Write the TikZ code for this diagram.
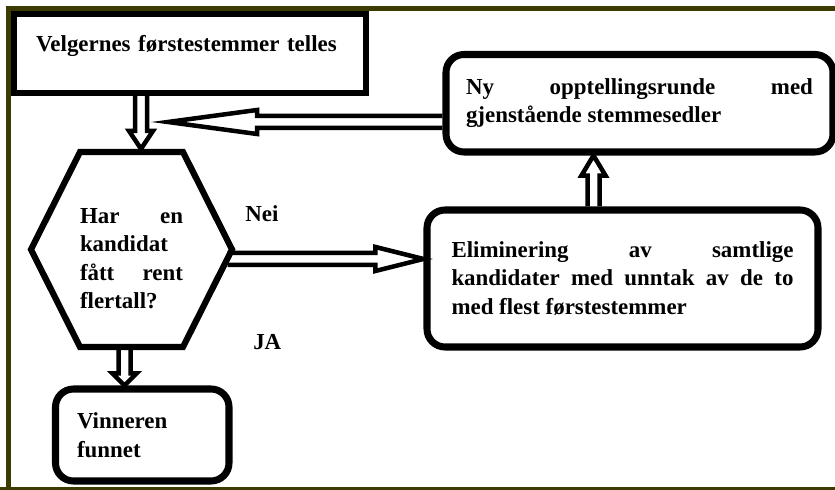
\documentclass[tikz,border=0pt]{standalone}
\usepackage{fontspec}
\setmainfont{Liberation Serif}
\usetikzlibrary{calc,shapes.symbols}
\definecolor{framecol}{RGB}{60,60,0}
\newcommand{\boxfont}{\fontsize{16.3}{20.3}\selectfont\bfseries}
\tikzset{
  box/.style={draw,line width=5pt,rounded corners=0.45cm,align=justify,font=\boxfont},
  blockarrow/.style={line width=3.2pt,line join=miter,
    to path={let \p1=(\tikztostart), \p2=(\tikztotarget),
      \n1={veclen(\x2-\x1,\y2-\y1)}, \n2={(\x2-\x1)/\n1}, \n3={(\y2-\y1)/\n1} in
      ({\x1-0.15cm*(\n3)},{\y1+0.15cm*(\n2)})
      -- ({\x2-#1*(\n2)-0.15cm*(\n3)},{\y2-#1*(\n3)+0.15cm*(\n2)})
      -- ({\x2-#1*(\n2)-0.3cm*(\n3)},{\y2-#1*(\n3)+0.3cm*(\n2)})
      -- (\p2)
      -- ({\x2-#1*(\n2)+0.3cm*(\n3)},{\y2-#1*(\n3)-0.3cm*(\n2)})
      -- ({\x2-#1*(\n2)+0.15cm*(\n3)},{\y2-#1*(\n3)-0.15cm*(\n2)})
      -- ({\x1+0.15cm*(\n3)},{\y1-0.15cm*(\n2)})}}
}
\begin{document}
\begin{tikzpicture}
  \useasboundingbox (0,0) rectangle (20.875,12.25);
  \draw[framecol,line width=3.56pt] (20.875,12.0375) -- (0.2125,12.0375) -- (0.2125,0);
  \draw[framecol,line width=2.1pt] (0,0.0375) -- (20.875,0.0375);

  \node (top) at (4.75,10.9125) [draw,line width=4.6pt,minimum width=8.8cm,minimum height=1.975cm,
    inner xsep=0.55cm,text width=7.7cm,text height=0.35cm,text depth=0.425cm,font=\boxfont]
    {Velgernes førstestemmer telles};
  \node (hex) at (3.2875,6.0125) [draw,line width=4.4pt,signal,signal to=west and east,
    signal pointer angle=126.6,minimum width=4.775cm,minimum height=4.875cm,inner sep=0pt,
    text width=2.575cm,text height=23.6pt,align=justify,font=\boxfont]
    {Har en\linebreak kandidat\linebreak fått rent\linebreak flertall?};
  \node (ny) at (15.9875,9.66875) [box,minimum height=2.4375cm,inner xsep=0.5cm,text width=8.675cm]
    {Ny opptellingsrunde med\linebreak gjenstående stemmesedler};
  \node (elim) at (15.5625,5.2875) [box,minimum height=3.425cm,inner xsep=0.6125cm,text width=8.55cm]
    {Eliminering av samtlige\linebreak kandidater med unntak av de to\linebreak med flest førstestemmer};
  \node (vin) at (3.55625,1.375) [box,minimum height=2.3cm,inner xsep=0.5375cm,text width=3.2625cm,align=left]
    {Vinneren\\funnet};

  \node (neitxt) at (6.125,6.7) [anchor=base west,inner sep=0pt,font=\boxfont] {Nei};
  \node (jatxt) at (6.325,3.5) [anchor=base west,inner sep=0pt,font=\boxfont] {JA};

  \coordinate (d1) at (3.525,0);
  \coordinate (d2) at (3.1125,0);
  \coordinate (up) at (14.8375,0);
  \coordinate (back) at (4.2,9.2);
  \coordinate (nei) at ($(hex.east)+(-0.2,-0.2375)$);
  \draw[blockarrow=0.45cm] (d1 |- top.south) to (d1 |- hex.north);
  \draw[blockarrow=0.3cm] (d2 |- hex.south) to (d2 |- vin.north);
  \draw[blockarrow=1.2cm] (nei) to (nei -| elim.west);
  \draw[blockarrow=0.5cm] (up |- elim.north) to (up |- ny.south);
  \draw[blockarrow=2.225cm] (ny.west |- back) to (back);
\end{tikzpicture}
\end{document}
